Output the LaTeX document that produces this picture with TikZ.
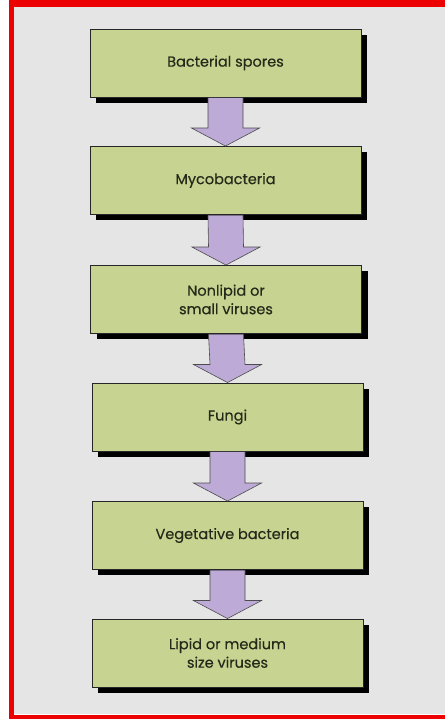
\documentclass[tikz,border=0pt]{standalone}
\usepackage{fontspec}
\setmainfont{Poppins}[UprightFeatures={FakeBold=0.4}]
\usetikzlibrary{calc,shadows}
\definecolor{boxgreen}{RGB}{199,211,145}
\definecolor{arrpurple}{RGB}{189,170,214}
\definecolor{bggray}{RGB}{229,229,229}
\definecolor{framered}{RGB}{236,0,0}
\definecolor{txt}{RGB}{35,42,25}
\begin{document}
\begin{tikzpicture}[x=1pt,y=1pt,
  box/.style={draw=black!85, line width=0.9pt, fill=boxgreen, minimum width=271pt, minimum height=68pt,
    inner sep=0pt, align=center, text=txt, font=\fontsize{14.5}{18.5}\selectfont,
    general shadow={fill=black, shadow xshift=6pt, shadow yshift=-6pt}},
  arr/.style={fill=arrpurple, draw=black!70, line width=0.6pt, line join=miter}]
\useasboundingbox (0,0) rectangle (444,719);
\fill[white] (0,0) rectangle (450,719);
\fill[bggray] (14,5) rectangle (450,712);
\fill[framered] (9,0) rectangle (14,719);
\fill[framered] (9,712) rectangle (450,719);
\fill[framered] (9,0) rectangle (450,4);
\node[box] (b1) at (225.5,656) {Bacterial spores};
\node[box] (b2) at (225.5,538.5) {Mycobacteria};
\node[box] (b3) at (226,419.5) {Nonlipid or\\small viruses};
\node[box] (b4) at (227.5,302) {Fungi};
\node[box] (b5) at (227.5,183.5) {Vegetative bacteria};
\node[box] (b6) at (227.5,66) {Lipid or medium\\size viruses};
\foreach \a/\b in {b1/b2,b2/b3,b3/b4,b4/b5,b5/b6}{
  \filldraw[arr] ($(\a.south)+(-17.5,-0.45)$) -- ($(\b.north)+(-17.5,18)$) -- ($(\b.north)+(-34,18)$)
    -- (\b.north) -- ($(\b.north)+(34,18)$) -- ($(\b.north)+(17.5,18)$) -- ($(\a.south)+(17.5,-0.45)$);
}
\end{tikzpicture}
\end{document}
